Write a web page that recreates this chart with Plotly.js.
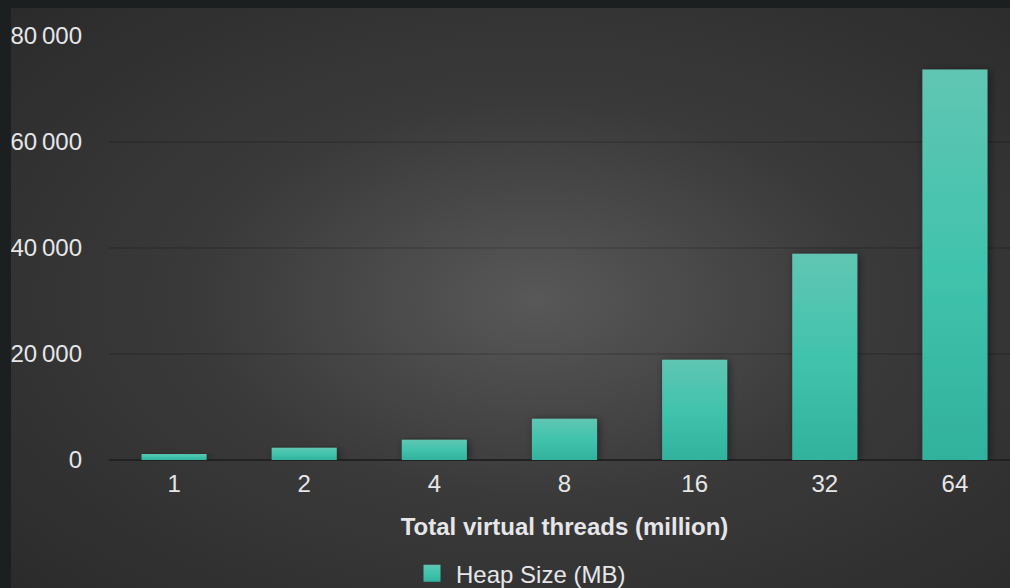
<!DOCTYPE html>
<html>
<head>
<meta charset="utf-8">
<script src="https://cdn.plot.ly/plotly-3.0.1.min.js"></script>
<style>
  html, body { margin: 0; padding: 0; width: 1010px; height: 588px; overflow: hidden; background: #1b1f20; }
  #frame {
    position: absolute; left: 11px; top: 8px; width: 1040px; height: 600px;
    background: radial-gradient(ellipse farthest-corner at 525px 292px, #585858 0%, #3a3a3a 45%, #2a2a2b 100%);
  }
  #chart { position: absolute; left: 0; top: 0; }
</style>
</head>
<body>
<div id="frame"><div id="chart"></div></div>
<script>
// Data
const categories = ['1', '2', '4', '8', '16', '32', '64'];
const heapSizeMB = [1150, 2300, 3800, 7800, 18900, 38900, 73700];
const seriesName = 'Heap Size (MB)';
const xTitle = 'Total virtual threads (million)';
const yTickVals = [0, 20000, 40000, 60000, 80000];

const textColor = '#e6e6e8';
const font = 'Liberation Sans, Arial, Helvetica, sans-serif';

const trace = {
  type: 'bar',
  x: categories,
  y: heapSizeMB,
  name: seriesName,
  marker: { color: '#40c0a9', line: { width: 0 } },
  showlegend: true,
  hoverinfo: 'none'
};

const layout = {
  width: 1009,
  height: 580,
  margin: { l: 98, r: 0, t: 28, b: 128, autoexpand: false },
  paper_bgcolor: 'rgba(0,0,0,0)',
  plot_bgcolor: 'rgba(0,0,0,0)',
  separators: '.\u2009',
  font: { family: font, color: textColor, size: 24 },
  bargap: 0.5,
  showlegend: true,
  xaxis: {
    type: 'category',
    automargin: false,
    tickfont: { family: font, size: 24, color: textColor },
    showgrid: false,
    showline: false,
    zeroline: false,
    ticks: '',
    ticklabelstandoff: 7,
    title: { text: xTitle, font: { family: font, size: 24, color: textColor, weight: 'bold' }, standoff: 22 }
  },
  yaxis: {
    automargin: false,
    range: [0, 80000],
    tickvals: yTickVals,
    tickformat: ',d',
    tickfont: { family: font, size: 24, color: textColor },
    showgrid: true,
    gridcolor: 'rgba(0,0,0,0.12)',
    gridwidth: 2,
    zeroline: true,
    zerolinecolor: '#222222',
    zerolinewidth: 2.5,
    showline: false,
    ticks: '',
    ticklabelstandoff: 26
  },
  legend: {
    orientation: 'h',
    x: 0.3370, xanchor: 'left',
    y: -0.268, yanchor: 'middle',
    bgcolor: 'rgba(0,0,0,0)',
    font: { family: font, size: 24, color: textColor }
  }
};

Plotly.newPlot('chart', [trace], layout, { staticPlot: true, displayModeBar: false }).then(function (gd) {
  const svg = gd.querySelector('svg.main-svg');
  const NS = 'http://www.w3.org/2000/svg';
  const defs = document.createElementNS(NS, 'defs');
  defs.innerHTML =
    '<linearGradient id="barGrad" x1="0" y1="0" x2="0" y2="1">' +
    '<stop offset="0" stop-color="#60c6b3"/>' +
    '<stop offset="0.5" stop-color="#41c3ac"/>' +
    '<stop offset="1" stop-color="#31b29c"/>' +
    '</linearGradient>' +
    '<filter id="barShadow" x="-30%" y="-10%" width="170%" height="130%">' +
    '<feDropShadow dx="2" dy="1" stdDeviation="4" flood-color="#000" flood-opacity="0.45"/>' +
    '</filter>';
  svg.insertBefore(defs, svg.firstChild);
  gd.querySelectorAll('.bars .point path').forEach(function (p) {
    p.style.fill = 'url(#barGrad)';
    p.setAttribute('filter', 'url(#barShadow)');
  });
  gd.querySelectorAll('.legendpoints path').forEach(function (p) {
    p.style.fill = 'url(#barGrad)';
    p.setAttribute('d', 'M4.5,8.5H-12.5V-8.5H4.5Z');
  });
});
</script>
</body>
</html>
